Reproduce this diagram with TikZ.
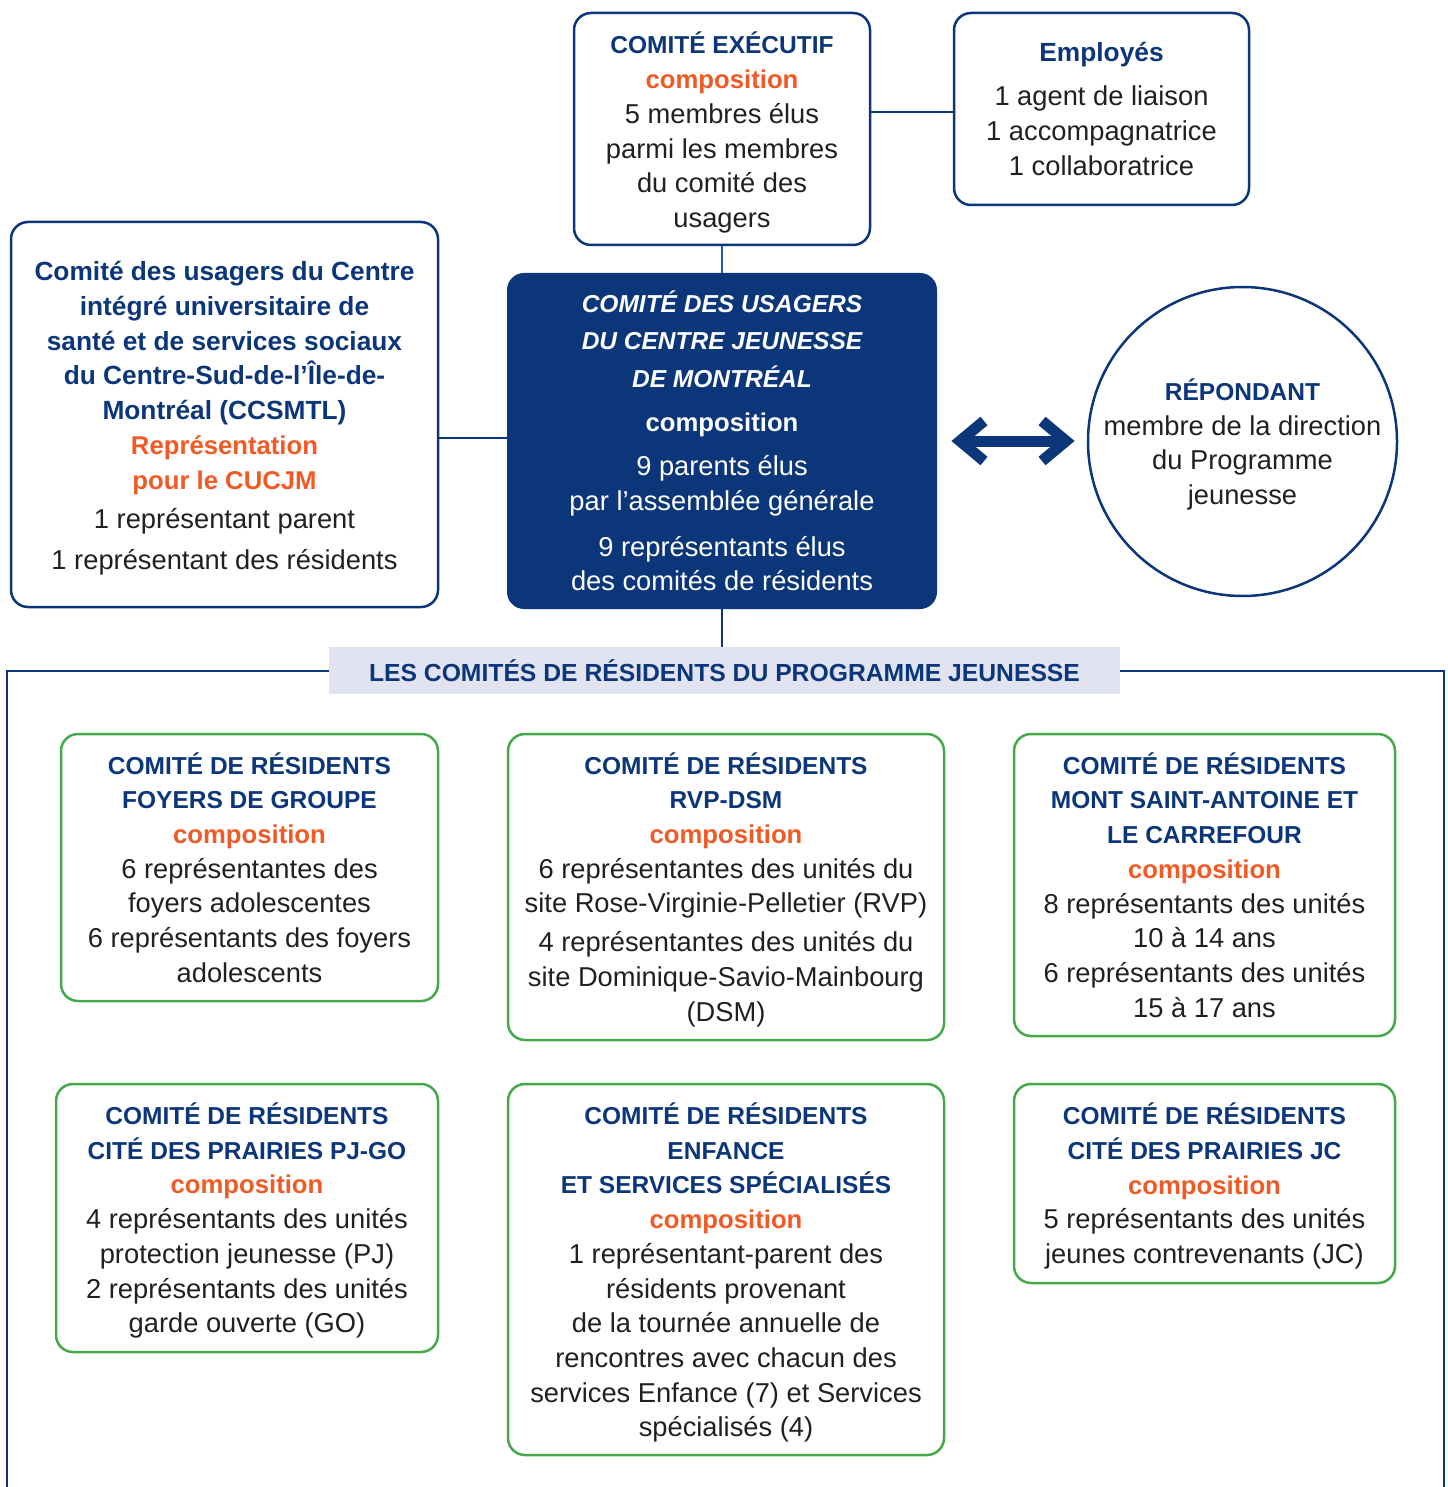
\documentclass[tikz,border=0pt]{standalone}
\usepackage{fontspec}
\setmainfont{Liberation Sans}
\definecolor{navy}{HTML}{0B3679}
\definecolor{lblue}{HTML}{1F5FB0}
\definecolor{org}{HTML}{F15A24}
\definecolor{grn}{HTML}{45A84A}
\definecolor{bandc}{HTML}{E1E4F0}
\definecolor{txt}{HTML}{231F20}
\newcommand\rgf{\fontsize{27.3}{34.7}\selectfont}
\newcommand\HN[1]{{\fontsize{24.5}{34.7}\selectfont\bfseries\color{navy}#1}}
\newcommand\LB[1]{{\fontsize{26.3}{34.7}\selectfont\bfseries\color{navy}#1}}
\newcommand\OR[1]{{\fontsize{25.7}{34.7}\selectfont\bfseries\color{org}#1}}
\newcommand\CI[1]{{\fontsize{24.5}{34.7}\selectfont\bfseries\itshape #1}}
\newcommand\sth[1]{\rule{0pt}{#1pt}}
\tikzset{
  nbox/.style={draw=navy, line width=2.5, rounded corners=17, inner sep=0, align=center, text=txt, font=\rgf},
  gbox/.style={draw=grn, line width=2.5, rounded corners=17, inner sep=0, align=center, text=txt, font=\rgf},
  conn/.style={draw=navy, line width=2.5},
  frameline/.style={draw=navy, line width=2},
}
\begin{document}
\begin{tikzpicture}[x=1pt,y=-1pt]
\useasboundingbox (0,0) rectangle (1447,1487);
% top boxes
\node[nbox, minimum width=296, minimum height=232] (exec) at (722,129)
 {\sth{29}\HN{COMITÉ EXÉCUTIF}\\ \OR{composition}\\ 5 membres élus\\ parmi les membres\\ du comité des\\ usagers};
\node[nbox, minimum width=295, minimum height=192] (emp) at (1101.5,109)
 {\LB{Employés}\\[9pt] 1 agent de liaison\\ 1 accompagnatrice\\ 1 collaboratrice};
\node[nbox, minimum width=427, minimum height=385] (left) at (224.5,414.5)
 {\sth{27.5}\LB{Comité des usagers du Centre}\\ \LB{intégré universitaire de}\\ \LB{santé et de services sociaux}\\ \LB{du Centre-Sud-de-l’Île-de-}\\ \LB{Montréal (CCSMTL)}\\ \OR{Représentation}\\ \OR{pour le CUCJM}\\[4.5pt] 1 représentant parent\\[7pt] 1 représentant des résidents};
\node[fill=navy, rounded corners=17, minimum width=430, minimum height=336, inner sep=0, align=center, text=white, font=\rgf] (cub) at (722,441)
 {\CI{COMITÉ DES USAGERS}\\[2.8pt] \CI{DU CENTRE JEUNESSE}\\[2.8pt] \CI{DE MONTRÉAL}\\[9.3pt] {\fontsize{25.7}{34.7}\selectfont\bfseries composition}\\[9.3pt] 9 parents élus\\ par l’assemblée générale\\[11.3pt] 9 représentants élus\\ des comités de résidents};
\node[draw=navy, line width=2.5, circle, inner sep=0, minimum size=309] (rep) at (1242.5,441.5) {};
\node[align=center, text=txt, font=\rgf, inner sep=0] (reptext) at ([yshift=-3pt]rep.center)
 {\HN{RÉPONDANT}\\ membre de la direction\\ du Programme\\ jeunesse};
% connectors
\draw[conn] ([yshift=-3pt]emp.west -| exec.east) -- ([yshift=-3pt]emp.west);
\draw[draw=lblue, line width=2.5] (exec.south) -- (cub.north);
\draw[conn] ([yshift=3pt]cub.west -| left.east) -- ([yshift=3pt]cub.west);
% double arrow
\coordinate (arrL) at (960,441);
\coordinate (arrR) at (1066,441);
\draw[navy, line width=11] (arrL) -- (arrR);
\draw[navy, line width=11, line join=miter, miter limit=10] ([shift={(24,-20)}]arrL) -- (arrL) -- ([shift={(24,20)}]arrL);
\draw[navy, line width=11, line join=miter, miter limit=10] ([shift={(-24,-20)}]arrR) -- (arrR) -- ([shift={(-24,20)}]arrR);
% band and frame
\node[fill=bandc, minimum width=791, minimum height=47, inner sep=0, text=navy, font={\fontsize{24.7}{30}\selectfont\bfseries}] (band) at (724.5,670.5)
 {LES COMITÉS DE RÉSIDENTS DU PROGRAMME JEUNESSE};
\draw[conn] (cub.south) -- (cub.south |- band.north);
\coordinate (fBL) at (7,1487);
\coordinate (fBR) at (1444,1487);
\draw[frameline] (band.west) -- (band.west -| fBL) -- (fBL);
\draw[frameline] (band.east) -- (band.east -| fBR) -- (fBR);
% green boxes
\node[gbox, minimum width=377, minimum height=267] (ga) at (249.5,867.5)
 {\HN{COMITÉ DE RÉSIDENTS}\\ \HN{FOYERS DE GROUPE}\\ \OR{composition}\\ 6 représentantes des\\ foyers adolescentes\\ 6 représentants des foyers\\ adolescents};
\node[gbox, minimum width=436, minimum height=306] (gb) at (726,887)
 {\sth{27}\HN{COMITÉ DE RÉSIDENTS}\\ \HN{RVP-DSM}\\ \OR{composition}\\ 6 représentantes des unités du\\ site Rose-Virginie-Pelletier (RVP)\\[4.3pt] 4 représentantes des unités du\\ site Dominique-Savio-Mainbourg\\ (DSM)};
\node[gbox, minimum width=381, minimum height=302] (gc) at (1204.5,885)
 {\HN{COMITÉ DE RÉSIDENTS}\\ \HN{MONT SAINT-ANTOINE ET}\\ \HN{LE CARREFOUR}\\ \OR{composition}\\ 8 représentants des unités\\ 10 à 14 ans\\ 6 représentants des unités\\ 15 à 17 ans};
\node[gbox, minimum width=382, minimum height=268] (gd) at (247,1218)
 {\sth{27}\HN{COMITÉ DE RÉSIDENTS}\\ \HN{CITÉ DES PRAIRIES PJ-GO}\\ \OR{composition}\\ 4 représentants des unités\\ protection jeunesse (PJ)\\ 2 représentants des unités\\ garde ouverte (GO)};
\node[gbox, minimum width=436, minimum height=371] (ge) at (726,1269.5)
 {\sth{28}\HN{COMITÉ DE RÉSIDENTS}\\ \HN{ENFANCE}\\ \HN{ET SERVICES SPÉCIALISÉS}\\ \OR{composition}\\ 1 représentant-parent des\\ résidents provenant\\ de la tournée annuelle de\\ rencontres avec chacun des\\ services Enfance (7) et Services\\ spécialisés (4)};
\node[gbox, minimum width=381, minimum height=199] (gf) at (1204.5,1183.5)
 {\sth{27}\HN{COMITÉ DE RÉSIDENTS}\\ \HN{CITÉ DES PRAIRIES JC}\\ \OR{composition}\\ 5 représentants des unités\\ jeunes contrevenants (JC)};
\end{tikzpicture}
\end{document}
